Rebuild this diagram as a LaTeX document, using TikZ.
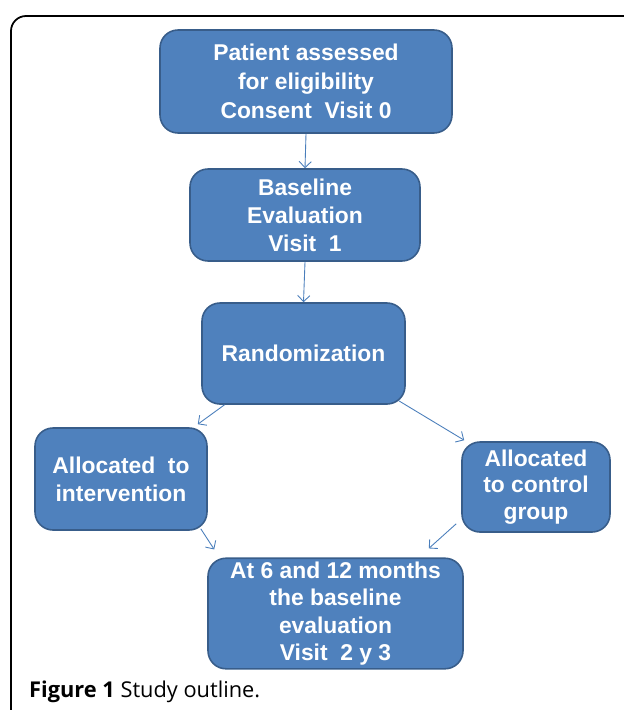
\documentclass[tikz,border=0pt]{standalone}
\usepackage{fontspec}
\setmainfont{Liberation Sans}
\newfontfamily\capfont{Open Sans}
\usetikzlibrary{arrows.meta,calc}
\definecolor{boxfill}{HTML}{4F81BD}
\definecolor{boxline}{HTML}{385D8A}
\definecolor{arrowline}{HTML}{4A7EBB}
\tikzset{
    stepbox/.style={
        draw=boxline,
        fill=boxfill,
        line width=0.9pt,
        rounded corners=0.36cm,
        text=white,
        align=center,
        inner sep=2pt,
        font=\fontsize{13}{16}\selectfont\bfseries
    },
    flow/.style={
        draw=arrowline,
        line width=0.5pt,
        -{Straight Barb[length=3.5pt,width=7pt]}
    }
}

\begin{document}
\begin{tikzpicture}
\useasboundingbox (0,0) rectangle (12.48,-14.2);
\draw[line width=1pt, rounded corners=0.3cm] (12.8,-0.32) -- (0.22,-0.32) -- (0.22,-14.6);
\node[stepbox, minimum width=5.84cm, minimum height=2.06cm,
      font=\fontsize{13}{16.5}\selectfont\bfseries] (patient) at (6.12,-1.63)
    {Patient assessed\\for eligibility\\Consent\ \ Visit 0};
\node[stepbox, minimum width=4.6cm, minimum height=1.84cm] (baseline) at (6.1,-4.3)
    {Baseline\\Evaluation\\Visit\ \ 1};
\node[stepbox, minimum width=4.06cm, minimum height=2.02cm] (rand) at (6.07,-7.07)
    {Randomization};
\node[stepbox, minimum width=3.44cm, minimum height=2.04cm] (interv) at (2.42,-9.58)
    {Allocated\ \ to\\intervention};
\node[stepbox, minimum width=2.96cm, minimum height=1.8cm,
      font=\fontsize{13}{15}\selectfont\bfseries] (ctrl) at (10.72,-9.74)
    {Allocated\\to control\\group};
\node[stepbox, minimum width=5.1cm, minimum height=2.14cm,
      font=\fontsize{13}{15.6}\selectfont\bfseries] (visit) at (6.71,-12.27)
    {At 6 and 12 months\\the baseline\\evaluation\\Visit\ \ 2 y 3};
\node[anchor=west, font=\capfont\fontsize{12.4}{15}\selectfont] (caption) at (0.46,-13.84)
    {\textbf{Figure 1} Study outline.};
\draw[flow] (patient.south) -- (baseline.north);
\draw[flow] (baseline.south) -- (rand.north);
\draw[flow] (rand.213) -- ($(interv.north east)+(-0.2,0.06)$);
\draw[flow] ($(rand.south east)+(-0.14,0.08)$) -- ($(ctrl.north west)+(0.06,0.02)$);
\draw[flow] ($(interv.south east)+(-0.14,0.04)$) -- ($(visit.north west)+(0.14,0.16)$);
\draw[flow] ($(ctrl.south west)+(-0.1,0.18)$) -- ($(visit.north east)+(-0.7,0.18)$);
\end{tikzpicture}
\end{document}
